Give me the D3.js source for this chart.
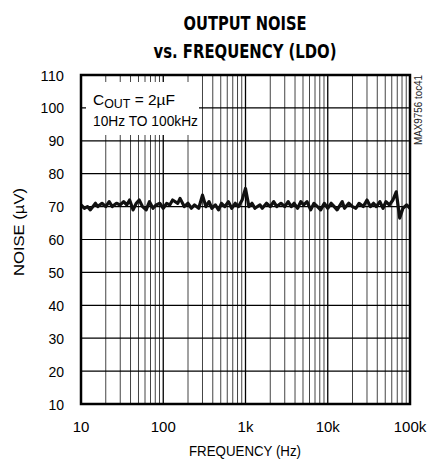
<!DOCTYPE html>
<html><head><meta charset="utf-8">
<script src="https://cdn.jsdelivr.net/npm/d3@7"></script>
<style>body{margin:0;background:#fff}svg{display:block}</style>
</head><body>
<script>
const freqs = [
 10,11,12,13,15,16,18,20,22,24,27,30,33,36,39,43,47,51,56,62,68,75,82,91,
 100,110,120,130,150,160,180,200,220,240,270,300,330,360,390,430,470,510,560,620,680,750,820,910,
 1000,1100,1200,1300,1500,1600,1800,2000,2200,2400,2700,3000,3300,3600,3900,4300,4700,5100,5600,6200,6800,7500,8200,9100,
 10000,11000,12000,13000,15000,16000,18000,20000,22000,24000,27000,30000,33000,36000,39000,43000,47000,51000,56000,62000,68000,75000,82000,91000,100000];
const noise = [
 70.5,69.5,70,69,71,70,71,70,71.5,70,71,70.5,71.5,70.5,72,69,71,72,70,69,71.5,69.5,70.5,71,
 69.5,71,70.5,72,71,72.5,70,71,69.5,70.5,69.5,73.5,70,71.5,69.5,70.5,69,71,70,71.5,69.5,71,70,72,
 75.5,70,71,69.5,70.5,69.5,71,70,71.5,70,71,70,71.5,70,71,69.5,71.5,70.5,71.5,69,71,70,69,71,
 69.5,71,70,69,71.5,69.5,71,70,69.5,71,70,72,70,71,70,71.5,69.5,71.5,70.5,72,74.5,66.5,69.5,70.5,69.5];
const xTicks = [10,100,1000,10000,100000];
const xTickLabels = ["10","100","1k","10k","100k"];
const yTicks = [10,20,30,40,50,60,70,80,90,100,110];
const titleLines = ["OUTPUT NOISE","vs. FREQUENCY (LDO)"];

const W=427,H=461;
const svg=d3.select("body").append("svg").attr("width",W).attr("height",H);
const x=d3.scaleLog().domain([10,100000]).range([81,410]);
const y=d3.scaleLinear().domain([10,110]).range([404,75]);
const font="'Liberation Sans', Arial, sans-serif";

// grid
const minor=[];
for(let d=10; d<100000; d*=10) for(let k=2;k<=9;k++) minor.push(d*k);
svg.append("g").selectAll("line").data(minor).join("line")
 .attr("x1",d=>x(d)).attr("x2",d=>x(d)).attr("y1",y(110)).attr("y2",y(10))
 .attr("stroke","#444").attr("stroke-width",1);
svg.append("g").selectAll("line").data(xTicks).join("line")
 .attr("x1",d=>x(d)).attr("x2",d=>x(d)).attr("y1",y(110)).attr("y2",y(10))
 .attr("stroke","#000").attr("stroke-width",1.3);
svg.append("g").selectAll("line").data(yTicks).join("line")
 .attr("x1",x(10)).attr("x2",x(100000)).attr("y1",d=>y(d)).attr("y2",d=>y(d))
 .attr("stroke","#000").attr("stroke-width",1.2);

// annotation box
svg.append("rect").attr("x",86).attr("y",82).attr("width",113).attr("height",53).attr("fill","#fff");
const ann=svg.append("text").attr("x",93).attr("y",105).attr("font-family",font).attr("font-size",15).attr("fill","#000")
 .attr("textLength",82).attr("lengthAdjust","spacingAndGlyphs");
ann.append("tspan").text("C");
ann.append("tspan").attr("font-size",12).attr("dy",3).text("OUT");
ann.append("tspan").attr("dy",-3).text(" = 2µF");
svg.append("text").attr("x",93).attr("y",126).attr("font-family",font).attr("font-size",15)
 .attr("textLength",105).attr("lengthAdjust","spacingAndGlyphs").text("10Hz TO 100kHz");

// curve
const line=d3.line().x((d,i)=>x(freqs[i])).y(d=>y(d));
svg.append("path").datum(noise).attr("d",line).attr("fill","none")
 .attr("stroke","#111").attr("stroke-width",3.2).attr("stroke-linejoin","round");

// frame
svg.append("rect").attr("x",81).attr("y",75).attr("width",329).attr("height",329)
 .attr("fill","none").attr("stroke","#000").attr("stroke-width",2.5);

// axes labels
svg.append("g").selectAll("text").data(yTicks).join("text")
 .attr("x",64).attr("y",d=>y(d)+5.5).attr("text-anchor","end")
 .attr("font-family",font).attr("font-size",15).attr("textLength",d=>String(d).length*7.8).attr("lengthAdjust","spacingAndGlyphs").text(d=>d);
svg.append("g").selectAll("text").data(xTicks).join("text")
 .attr("x",d=>x(d)).attr("y",432).attr("text-anchor","middle")
 .attr("font-family",font).attr("font-size",15).text((d,i)=>xTickLabels[i]);
svg.append("text").attr("x",245).attr("y",456).attr("text-anchor","middle")
 .attr("font-family",font).attr("font-size",15).attr("textLength",112).attr("lengthAdjust","spacingAndGlyphs").text("FREQUENCY (Hz)");
svg.append("text").attr("transform","translate(24,232) rotate(-90)").attr("text-anchor","middle")
 .attr("font-family",font).attr("font-size",15).attr("textLength",88).attr("lengthAdjust","spacingAndGlyphs").text("NOISE (µV)");
svg.append("text").attr("transform","translate(422,110) rotate(-90)").attr("text-anchor","middle")
 .attr("font-family",font).attr("font-size",10).attr("fill","#222").attr("textLength",70).attr("lengthAdjust","spacingAndGlyphs").text("MAX9756 toc41");

// title
svg.append("text").attr("x",245).attr("y",30).attr("text-anchor","middle")
 .attr("font-family","'DejaVu Sans Condensed','DejaVu Sans',sans-serif").attr("font-weight","bold")
 .attr("font-size",20).attr("textLength",123).attr("lengthAdjust","spacingAndGlyphs").text(titleLines[0]);
svg.append("text").attr("x",245).attr("y",58).attr("text-anchor","middle")
 .attr("font-family","'DejaVu Sans Condensed','DejaVu Sans',sans-serif").attr("font-weight","bold")
 .attr("font-size",20).attr("textLength",183).attr("lengthAdjust","spacingAndGlyphs").text(titleLines[1]);
</script>
</body></html>
